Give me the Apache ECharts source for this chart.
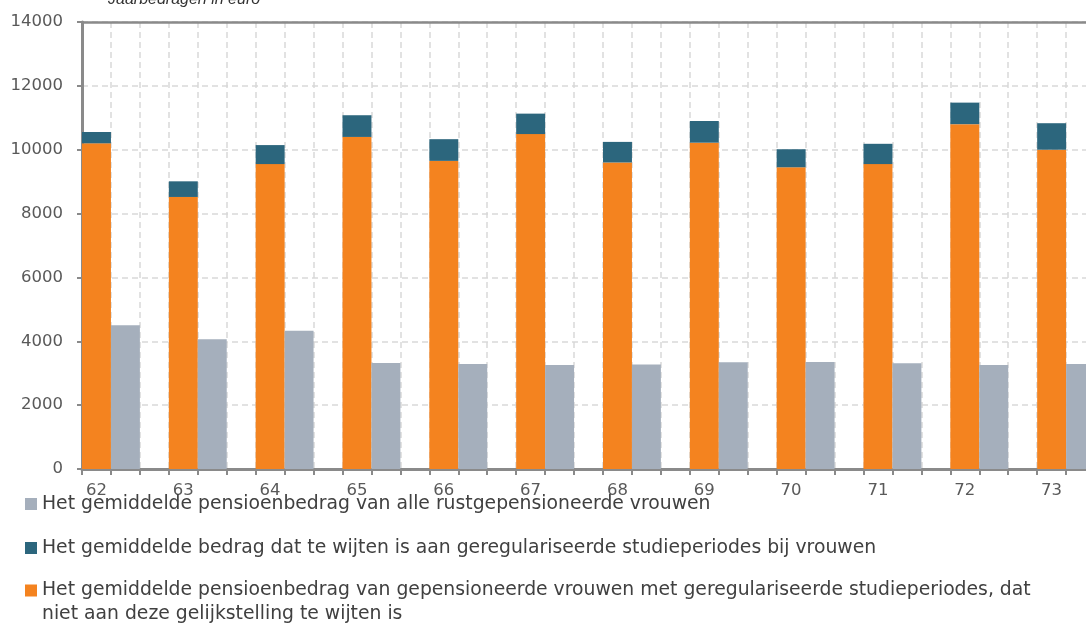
<!DOCTYPE html>
<html>
<head>
<meta charset="utf-8">
<script src="https://cdn.jsdelivr.net/npm/echarts@6/dist/echarts.min.js"></script>
<style>html,body{margin:0;padding:0;background:#fff;overflow:hidden;width:1086px;height:625px;}#chart{width:1124px;height:625px;}</style>
</head>
<body>
<div id="chart"></div>
<script>
// ---- data ----
const categories = ['62', '63', '64', '65', '66', '67', '68', '69', '70', '71', '72', '73'];
const baseWithStudy = [10200, 8520, 9550, 10400, 9650, 10490, 9600, 10220, 9450, 9550, 10800, 10000];
const studyPart = [355, 490, 595, 680, 680, 640, 645, 680, 565, 635, 675, 830];
const allRetired = [4500, 4060, 4330, 3320, 3290, 3260, 3270, 3340, 3350, 3310, 3260, 3290];
const yMin = 0, yMax = 14000, yStep = 2000;
const titleText = 'Jaarbedragen in euro';
const nameAll = 'Het gemiddelde pensioenbedrag van alle rustgepensioneerde vrouwen';
const nameStudy = 'Het gemiddelde bedrag dat te wijten is aan geregulariseerde studieperiodes bij vrouwen';
const nameBase = 'Het gemiddelde pensioenbedrag van gepensioneerde vrouwen met geregulariseerde studieperiodes, dat niet aan deze gelijkstelling te wijten is';

const cOrange = '#F4831F', cNavy = '#2C667D', cGray = '#A5AFBC';
const axisGray = '#8A8A8A', gridCol = '#D9D9D9', labelCol = '#595959', legendCol = '#404040';
const slots = categories.length * 3;

const chart = echarts.init(document.getElementById('chart'));
const legendText = { fontFamily: 'DejaVu Sans', fontSize: 18.8, color: legendCol, lineHeight: 24 };
chart.setOption({
  animation: false,
  title: {
    text: titleText, left: 108, top: -8, padding: 0,
    textStyle: { fontFamily: 'Liberation Sans', fontStyle: 'italic', fontWeight: 'normal', fontSize: 16, color: '#333' }
  },
  grid: { left: 82, top: 22, right: 0, height: 447, containLabel: false },
  legend: [
    { data: [nameAll], left: 25, top: 492, padding: 0, icon: 'rect', itemWidth: 12, itemHeight: 12, textStyle: legendText },
    { data: [nameStudy], left: 25, top: 536, padding: 0, icon: 'rect', itemWidth: 12, itemHeight: 12, textStyle: legendText },
    { data: [nameBase], left: 25, top: 555.25, padding: 0, icon: 'rect', itemWidth: 12, itemHeight: 12,
      formatter: n => '\n' + n.replace(', dat niet', ', dat\nniet'),
      textStyle: Object.assign({}, legendText, { lineHeight: 23.5 }) }
  ],
  xAxis: [
    {
      type: 'category', data: categories, position: 'bottom',
      axisLine: { show: false }, axisTick: { show: false }, splitLine: { show: false },
      axisLabel: { margin: 13, padding: [0, 58, 0, 0], fontFamily: 'DejaVu Sans', fontSize: 16.5, color: labelCol }
    },
    {
      type: 'value', min: 0, max: slots, interval: 1, position: 'bottom',
      axisLine: { show: true, lineStyle: { color: axisGray, width: 3 } },
      axisTick: { show: true, length: 6, lineStyle: { color: axisGray, width: 2 } },
      axisLabel: { show: false },
      splitLine: { show: true, lineStyle: { color: gridCol, width: 1.5, type: [6, 4] } }
    },
    {
      type: 'value', min: 0, max: slots, interval: 1, position: 'top',
      axisLine: { show: true, lineStyle: { color: axisGray, width: 2.5 } },
      axisTick: { show: false }, axisLabel: { show: false }, splitLine: { show: false }
    }
  ],
  yAxis: {
    type: 'value', min: yMin, max: yMax, interval: yStep,
    axisLine: { show: true, lineStyle: { color: axisGray, width: 3 } },
    axisTick: { show: true, length: 5, lineStyle: { color: axisGray, width: 2 } },
    axisLabel: { margin: 19, fontFamily: 'DejaVu Sans', fontSize: 16.5, color: labelCol, formatter: v => String(v) },
    splitLine: { show: true, lineStyle: { color: gridCol, width: 1.5, type: [6, 4] } }
  },
  series: [
    { name: nameBase, type: 'bar', stack: 'w', data: baseWithStudy, barWidth: '33.33%', barGap: 0,
      itemStyle: { color: cOrange } },
    { name: nameStudy, type: 'bar', stack: 'w', data: studyPart, barWidth: '33.33%', barGap: 0,
      itemStyle: { color: cNavy } },
    { name: nameAll, type: 'bar', data: allRetired, barWidth: '33.33%', barGap: 0,
      itemStyle: { color: cGray } },
    { name: 'spacer', type: 'bar', data: [], barWidth: '33.33%', barGap: 0 }
  ]
});
</script>
</body>
</html>
